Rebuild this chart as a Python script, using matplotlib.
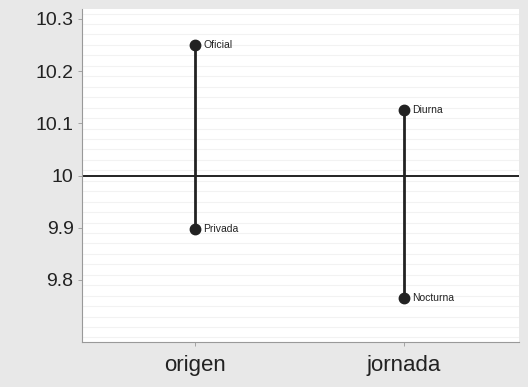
import numpy as np
import matplotlib.pyplot as plt

plt.rcParams['font.family'] = ['Liberation Sans', 'DejaVu Sans']

# data
groups = ["origen", "jornada"]
low_labels = ["Privada", "Nocturna"]
high_labels = ["Oficial", "Diurna"]
low_values = [9.898, 9.766]
high_values = [10.250, 10.126]
ref_value = 10.0
yticks = [9.8, 9.9, 10, 10.1, 10.2, 10.3]
ytick_labels = ["9.8", "9.9", "10", "10.1", "10.2", "10.3"]

fig = plt.figure(figsize=(5.28, 3.87), dpi=100)
fig.patch.set_facecolor("#e8e8e8")
ax = fig.add_axes([0.155, 0.116, 0.828, 0.861])
ax.set_facecolor("white")

x = np.arange(1, len(groups) + 1)
ax.set_xlim(0.46, 2.55)
ax.set_ylim(9.681, 10.319)

# faint horizontal lines
for yy in np.arange(9.69, 10.32, 0.02):
    ax.axhline(yy, color="#f2f2f2", lw=0.8, zorder=0)

ax.axhline(ref_value, color="#222222", lw=1.4, zorder=1)

for i in range(len(groups)):
    ax.plot([x[i], x[i]], [low_values[i], high_values[i]], color="#222222", lw=2, zorder=2)
    ax.plot([x[i], x[i]], [low_values[i], high_values[i]], "o", color="#222222",
            markersize=7.5, zorder=3)
    ax.text(x[i] + 0.04, high_values[i], high_labels[i], fontsize=7.5,
            va="center", ha="left", color="#222222")
    ax.text(x[i] + 0.04, low_values[i], low_labels[i], fontsize=7.5,
            va="center", ha="left", color="#222222")

ax.set_xticks(x)
ax.set_xticklabels(groups, fontsize=16)
ax.set_yticks(yticks)
ax.set_yticklabels(ytick_labels, fontsize=14)

for s in ["top", "right"]:
    ax.spines[s].set_visible(False)
for s in ["left", "bottom"]:
    ax.spines[s].set_color("#999999")
    ax.spines[s].set_linewidth(0.8)
ax.tick_params(axis="both", colors="#999999", length=3, width=0.6, pad=3,
               labelcolor="#222222")
ax.tick_params(axis="x", pad=6)

fig.savefig("out.png", dpi=100, facecolor=fig.get_facecolor())
